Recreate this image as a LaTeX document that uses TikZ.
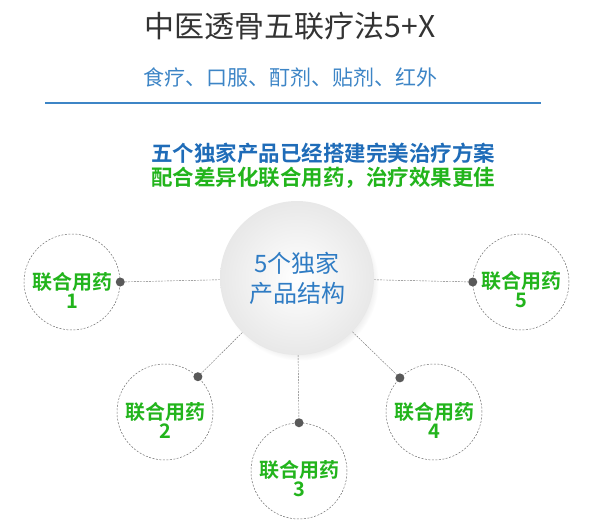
\documentclass[tikz,border=0pt]{standalone}
\usepackage{fontspec}
\setmainfont{Noto Sans CJK SC}[BoldFont={Noto Sans CJK SC Bold}]
\usetikzlibrary{shadows}
\definecolor{ttl}{HTML}{333333}
\definecolor{subblue}{HTML}{3D85C6}
\definecolor{headblue}{HTML}{1F6CB8}
\definecolor{grn}{HTML}{22B41C}
\definecolor{hubblue}{HTML}{2F7CC4}

\tikzset{
    sat/.style={circle,draw=black!55,line width=0.5pt,dash pattern=on 2pt off 1.5pt,minimum size=96pt,inner sep=0pt,
        label={[align=center,text=grn,font=\fontsize{20}{19}\selectfont\bfseries,yshift=-8pt]center:#1}},
    dot/.style={circle,fill=black!65,minimum size=9pt,inner sep=0pt},
    link/.style={draw=black!55,dash pattern=on 2pt off 1pt},
    hub/.style={circle,minimum size=154pt,inner sep=0pt,align=center,text=hubblue,
        font=\fontsize{24}{30}\selectfont,inner color=white,outer color=black!9,
        circular drop shadow={shadow xshift=3pt,shadow yshift=-4pt,opacity=0.22,shadow scale=1.02}}
}

\begin{document}
\begin{tikzpicture}[x=1pt,y=-1pt]
    \useasboundingbox (0,0) rectangle (597,530);
    \node[text=ttl,font=\fontsize{30}{34}\selectfont] (title) at (290,26) {中医透骨五联疗法5+X};
    \node[text=subblue,font=\fontsize{21}{24}\selectfont] (sub) at (290,77) {食疗、口服、酊剂、贴剂、红外};
    \draw[subblue,line width=1.2pt] (45,103) -- (541,103);
    \node[text=headblue,font=\fontsize{21.5}{24}\selectfont\bfseries] (head) at (323,153) {五个独家产品已经搭建完美治疗方案};
    \node[text=grn,font=\fontsize{21.5}{24}\selectfont\bfseries] (tag) at (323,178) {配合差异化联合用药，治疗效果更佳};

    \node[hub] (hub) at (297,278) {5个独家\\产品结构};

    \node[sat={联合用药\\1}] (s1) at (72,282) {};
    \node[sat={联合用药\\2}] (s2) at (165,412) {};
    \node[sat={联合用药\\3}] (s3) at (299,471) {};
    \node[sat={联合用药\\4}] (s4) at (434,412) {};
    \node[sat={联合用药\\5}] (s5) at (521,282) {};

    \node[dot] (d1) at (s1.east) {};
    \node[dot] (d2) at (s2.47) {};
    \node[dot] (d3) at (s3.north) {};
    \node[dot] (d4) at (s4.135) {};
    \node[dot] (d5) at (s5.west) {};

    \draw[link] (hub) -- (d1);
    \draw[link] (hub) -- (d2);
    \draw[link] (hub) -- (d3);
    \draw[link] (hub) -- (d4);
    \draw[link] (hub) -- (d5);
\end{tikzpicture}
\end{document}
